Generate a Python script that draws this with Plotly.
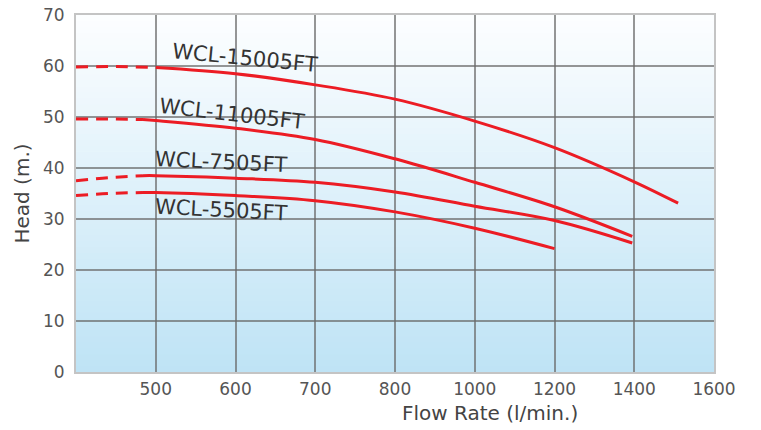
import numpy as np
import plotly.graph_objects as go

# ---------------- data ----------------
FLOW_TICKS = [400, 500, 600, 700, 800, 1000, 1200, 1400, 1600]
FLOW_TICK_TEXT = ["", "500", "600", "700", "800", "1000", "1200", "1400", "1600"]
HEAD_TICKS = [0, 10, 20, 30, 40, 50, 60, 70]

MODELS = ["WCL-15005FT", "WCL-11005FT", "WCL-7505FT", "WCL-5505FT"]

# solid (operating) part of each curve
flow_15005 = [500, 600, 700, 800, 1000, 1200, 1400, 1510]
head_15005 = [59.7, 58.5, 56.3, 53.5, 49.2, 44.0, 37.3, 33.1]
flow_11005 = [484, 500, 600, 700, 800, 1000, 1200, 1395]
head_11005 = [49.5, 49.3, 47.8, 45.6, 41.8, 37.2, 32.4, 26.6]
flow_7505 = [484, 500, 600, 700, 800, 1000, 1200, 1395]
head_7505 = [38.5, 38.5, 38.0, 37.2, 35.3, 32.5, 29.7, 25.3]
flow_5505 = [484, 500, 600, 700, 800, 1000, 1200]
head_5505 = [35.2, 35.2, 34.6, 33.6, 31.4, 28.2, 24.2]

# dashed (extrapolated) part of each curve
dflow_15005 = [400, 450, 500]
dhead_15005 = [59.8, 59.9, 59.7]
dflow_11005 = [400, 440, 484]
dhead_11005 = [49.6, 49.6, 49.5]
dflow_7505 = [400, 440, 484]
dhead_7505 = [37.5, 38.1, 38.5]
dflow_5505 = [400, 440, 484]
dhead_5505 = [34.6, 35.0, 35.2]

SOLID = [(flow_15005, head_15005), (flow_11005, head_11005),
         (flow_7505, head_7505), (flow_5505, head_5505)]
DASHED = [(dflow_15005, dhead_15005), (dflow_11005, dhead_11005),
          (dflow_7505, dhead_7505), (dflow_5505, dhead_5505)]

# label anchor (flow, head) and angle -- styling/layout
LABEL_POS = [(612, 61.6, 5.5), (595, 50.5, 6.5), (582, 41.2, 2.6), (582, 31.7, 3.0)]

# ---------------- scale: the printed axis is evenly spaced per tick ----------------
TICK_POS = np.arange(len(FLOW_TICKS), dtype=float)


def to_pos(flow):
    return np.interp(np.asarray(flow, dtype=float), FLOW_TICKS, TICK_POS)


RED = "#ec1c24"
fig = go.Figure()

for (f, h), name in zip(DASHED, MODELS):
    fig.add_trace(go.Scatter(
        x=to_pos(f), y=h, mode="lines", customdata=f,
        line=dict(color=RED, width=3, dash="12px,8px", shape="spline"),
        hovertemplate=name + "<br>%{customdata} l/min<br>%{y} m<extra></extra>",
        showlegend=False))

for (f, h), name in zip(SOLID, MODELS):
    fig.add_trace(go.Scatter(
        x=to_pos(f), y=h, mode="lines", customdata=f,
        line=dict(color=RED, width=3, shape="spline", smoothing=1.0),
        hovertemplate=name + "<br>%{customdata} l/min<br>%{y} m<extra></extra>",
        showlegend=False))

# curve labels
for name, (lf, lh, ang) in zip(MODELS, LABEL_POS):
    fig.add_annotation(
        x=float(to_pos(lf)), y=lh, xref="x", yref="y", text=name,
        showarrow=False, textangle=ang,
        font=dict(family="DejaVu Sans", size=21, color="#333333"))

# gradient background (white top -> light blue bottom)
N = 60
top = np.array([253, 254, 255])
bot = np.array([190, 227, 245])
shapes = []
for i in range(N):
    t = (i + 0.5) / N
    c = bot + (top - bot) * t
    shapes.append(dict(
        type="rect", xref="paper", yref="paper",
        x0=0, x1=1, y0=i / N, y1=(i + 1) / N + 0.002,
        fillcolor="rgb(%d,%d,%d)" % tuple(c.round().astype(int)),
        line=dict(width=0), layer="below"))

# axis titles
fig.add_annotation(
    x=0.649, y=-0.115, xref="paper", yref="paper", text="Flow Rate (l/min.)",
    showarrow=False, xanchor="center", yanchor="middle",
    font=dict(family="DejaVu Sans", size=20, color="#444444"))

fig.update_layout(
    width=761, height=430,
    margin=dict(l=68, r=55, t=7, b=66),
    paper_bgcolor="white", plot_bgcolor="rgba(0,0,0,0)",
    shapes=shapes,
    font=dict(family="DejaVu Sans", size=17, color="#555555"),
    xaxis=dict(
        range=[0, len(FLOW_TICKS) - 1], tickmode="array",
        tickvals=list(TICK_POS), ticktext=FLOW_TICK_TEXT,
        showgrid=True, gridcolor="rgba(105,105,105,0.7)", gridwidth=1.5,
        zeroline=False, showline=True, linecolor="#c4c4c4", linewidth=2,
        mirror=True, ticks="", ticklabelstandoff=1, automargin=False,
        ticklabeloverflow="allow",
        tickfont=dict(family="DejaVu Sans", size=17, color="#555555")),
    yaxis=dict(
        range=[0, 70], tickmode="array", tickvals=HEAD_TICKS,
        showgrid=True, gridcolor="rgba(105,105,105,0.7)", gridwidth=1.5,
        zeroline=False, showline=True, linecolor="#c4c4c4", linewidth=2,
        mirror=True, ticks="", ticklabelstandoff=6, automargin=False,
        ticklabeloverflow="allow",
        title=dict(text="Head (m.)", standoff=8,
                   font=dict(family="DejaVu Sans", size=20, color="#444444")),
        tickfont=dict(family="DejaVu Sans", size=17, color="#555555")),
)

fig.write_html("out.html")
